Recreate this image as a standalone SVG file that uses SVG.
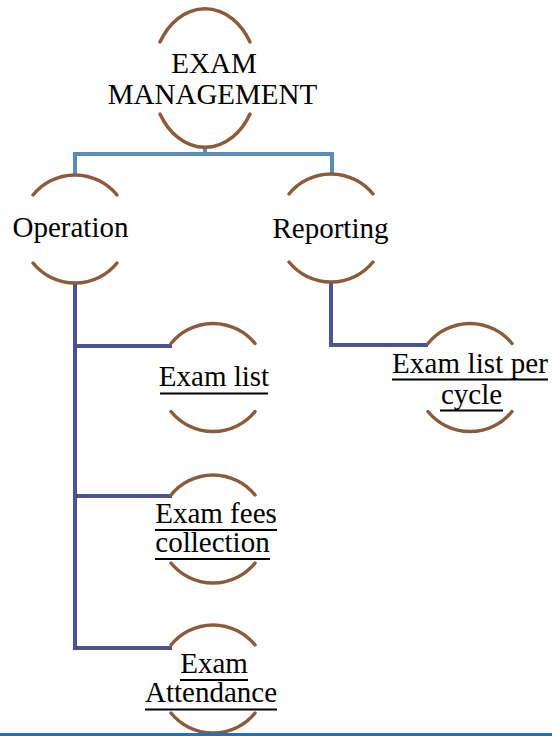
<svg xmlns="http://www.w3.org/2000/svg" width="552" height="736" viewBox="0 0 552 736">
  <style>
    .arc { fill: none; stroke: #8C5B3B; stroke-width: 3.5; stroke-linecap: round; }
    .lbl { font-family: 'Liberation Serif', Tinos, 'DejaVu Serif', serif; font-size: 29px; fill: #000; text-anchor: middle; }
    .ul { stroke: #000; stroke-width: 2; }
    .lvl1 { fill: none; stroke: #5A8DB6; stroke-width: 4; }
    .lvl2 { fill: none; stroke: #4E5292; stroke-width: 4; }
  </style>
  <rect width="552" height="736" fill="#fff"/>

  <!-- connectors -->
  <g id="connectors">
    <path class="lvl1" d="M75 175 V154 H332 V175 M205 147 V154"/>
    <path class="lvl2" d="M75 283 V648 M73 346 H172 M73 496 H172 M73 648 H172 M331 282 V345 H428"/>
  </g>

  <!-- root -->
  <g id="exam-management">
    <path class="arc" d="M160 42 A52.6 69.2 0 0 1 250 42"/>
    <path class="arc" d="M160 114 A52.6 69.2 0 0 0 250 114"/>
    <text class="lbl" x="214" y="73">EXAM</text>
    <text class="lbl" x="212.5" y="104">MANAGEMENT</text>
  </g>

  <g id="operation">
    <path class="arc" d="M33 195 A54 54 0 0 1 117 195"/>
    <path class="arc" d="M33 263 A54 54 0 0 0 117 263"/>
    <text class="lbl" x="70.5" y="237">Operation</text>
  </g>

  <g id="reporting">
    <path class="arc" d="M289 194 A54 54 0 0 1 373 194"/>
    <path class="arc" d="M289 262 A54 54 0 0 0 373 262"/>
    <text class="lbl" x="330.5" y="238">Reporting</text>
  </g>

  <g id="exam-list">
    <path class="arc" d="M171 343.5 A54 54 0 0 1 255 343.5"/>
    <path class="arc" d="M171 411.5 A54 54 0 0 0 255 411.5"/>
    <text class="lbl" x="214" y="386">Exam list</text>
    <line class="ul" x1="160" y1="393.5" x2="268" y2="393.5"/>
  </g>

  <g id="exam-list-per-cycle">
    <path class="arc" d="M428 343.5 A54 54 0 0 1 512 343.5"/>
    <path class="arc" d="M428 411.5 A54 54 0 0 0 512 411.5"/>
    <text class="lbl" x="470" y="373" textLength="156" lengthAdjust="spacing">Exam list per</text>
    <line class="ul" x1="392" y1="379.5" x2="548" y2="379.5"/>
    <text class="lbl" x="471.5" y="404">cycle</text>
    <line class="ul" x1="440" y1="410.5" x2="503" y2="410.5"/>
  </g>

  <g id="exam-fees-collection">
    <path class="arc" d="M171 495 A54 54 0 0 1 255 495"/>
    <path class="arc" d="M171 563 A54 54 0 0 0 255 563"/>
    <text class="lbl" x="216" y="523">Exam fees</text>
    <line class="ul" x1="155" y1="530" x2="277" y2="530"/>
    <text class="lbl" x="212.5" y="552">collection</text>
    <line class="ul" x1="155" y1="559" x2="270" y2="559"/>
  </g>

  <g id="exam-attendance">
    <path class="arc" d="M171 645 A54 54 0 0 1 255 645"/>
    <path class="arc" d="M171 713 A54 54 0 0 0 255 713"/>
    <text class="lbl" x="214" y="673">Exam</text>
    <line class="ul" x1="180" y1="680" x2="248" y2="680"/>
    <text class="lbl" x="211" y="702">Attendance</text>
    <line class="ul" x1="145" y1="709.5" x2="277" y2="709.5"/>
  </g>

  <!-- page rule along the bottom edge -->
  <rect x="0" y="733" width="552" height="3" fill="#1E73BE"/>
</svg>
